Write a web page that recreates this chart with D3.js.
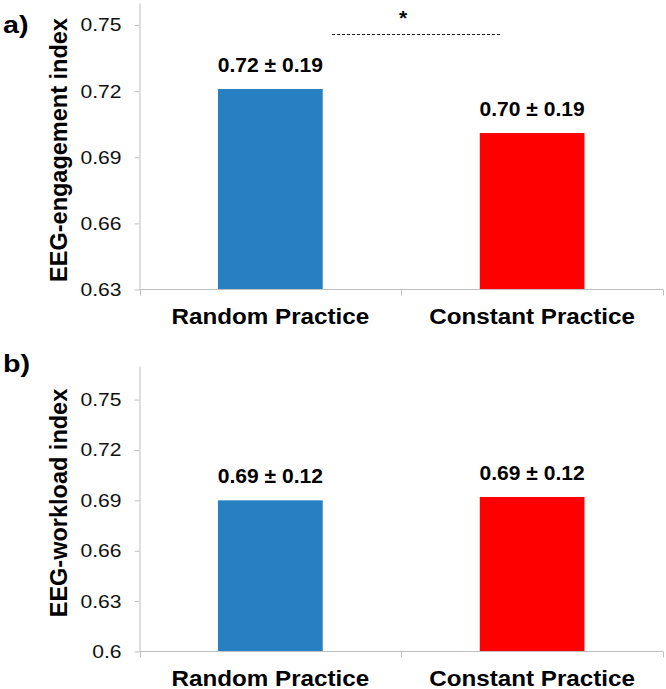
<!DOCTYPE html>
<html>
<head>
<meta charset="utf-8">
<script src="https://cdn.jsdelivr.net/npm/d3@7"></script>
<style>
  html, body { margin: 0; padding: 0; background: #fff; }
  svg { display: block; font-family: "Liberation Sans", Arial, sans-serif; }
</style>
</head>
<body>
<svg id="chart" width="666" height="689"></svg>
<script>
// ---------- data ----------
const categories = ["Random Practice", "Constant Practice"];

const engagementValues = [0.721, 0.701];
const engagementLabels = ["0.72 ± 0.19", "0.70 ± 0.19"];
const engagementTicks = [0.63, 0.66, 0.69, 0.72, 0.75];
const engagementTickLabels = ["0.63", "0.66", "0.69", "0.72", "0.75"];
const engagementDomain = [0.63, 0.76];

const workloadValues = [0.690, 0.692];
const workloadLabels = ["0.69 ± 0.12", "0.69 ± 0.12"];
const workloadTicks = [0.60, 0.63, 0.66, 0.69, 0.72, 0.75];
const workloadTickLabels = ["0.6", "0.63", "0.66", "0.69", "0.72", "0.75"];
const workloadDomain = [0.60, 0.77];

const significance = "*";

// ---------- style ----------
const barColors = ["#2680c2", "#ff0000"];
const axisColor = "#bfbfbf";
const svg = d3.select("#chart");

const x = d3.scaleBand()
  .domain(categories)
  .range([139.5, 663])
  .paddingInner(0.6)
  .paddingOuter(0.3);

function drawPanel(opts) {
  const g = svg.append("g");
  const y = d3.scaleLinear().domain(opts.domain).range([opts.bottom, opts.top]);

  // bars
  g.selectAll("rect.bar")
    .data(opts.values)
    .join("rect")
    .attr("class", "bar")
    .attr("x", (d, i) => x(categories[i]))
    .attr("width", x.bandwidth())
    .attr("y", d => y(d))
    .attr("height", d => y(opts.domain[0]) - y(d))
    .attr("fill", (d, i) => barColors[i]);

  // y axis
  const tickMap = new Map(opts.ticks.map((t, i) => [t, opts.tickLabels[i]]));
  const yAxis = d3.axisLeft(y)
    .tickValues(opts.ticks)
    .tickFormat(d => tickMap.get(d))
    .tickSize(5)
    .tickSizeOuter(0)
    .tickPadding(13);
  const ya = g.append("g")
    .attr("transform", `translate(${x.range()[0]},0)`)
    .call(yAxis);
  ya.select(".domain").attr("stroke", axisColor);
  ya.selectAll(".tick line").attr("stroke", axisColor);
  ya.selectAll(".tick text")
    .attr("x", null)
    .attr("transform", "translate(-18,0) scale(1.14,1)")
    .attr("font-size", 18.5)
    .attr("font-family", "Liberation Sans, Arial, sans-serif")
    .attr("fill", "#111");

  // x axis (Excel style: ticks at category boundaries)
  const base = y(opts.domain[0]);
  g.append("line")
    .attr("x1", x.range()[0]).attr("x2", x.range()[1])
    .attr("y1", base).attr("y2", base)
    .attr("stroke", axisColor);
  const bounds = [];
  categories.forEach((c, i) => {
    const cx = x(c) + x.bandwidth() / 2;
    if (i === 0) bounds.push(cx - x.step() / 2);
    bounds.push(cx + x.step() / 2);
  });
  g.selectAll("line.xtick")
    .data(bounds)
    .join("line")
    .attr("class", "xtick")
    .attr("x1", d => Math.round(d) + 0.5).attr("x2", d => Math.round(d) + 0.5)
    .attr("y1", base).attr("y2", base + 6)
    .attr("stroke", axisColor);

  // category labels
  g.selectAll("text.cat")
    .data(categories)
    .join("text")
    .attr("class", "cat")
    .attr("transform", d => `translate(${x(d) + x.bandwidth() / 2},${base + 34}) scale(1.1,1)`)
    .attr("text-anchor", "middle")
    .attr("font-size", 22)
    .attr("font-weight", "bold")
    .text(d => d);

  // value labels
  g.selectAll("text.val")
    .data(opts.values)
    .join("text")
    .attr("class", "val")
    .attr("transform", (d, i) => `translate(${x(categories[i]) + x.bandwidth() / 2},${y(d) - 17}) scale(1.08,1)`)
    .attr("text-anchor", "middle")
    .attr("font-size", 19.5)
    .attr("font-weight", "bold")
    .text((d, i) => opts.labels[i]);

  // y title
  g.append("text")
    .attr("transform", `translate(67,${opts.titleY}) rotate(-90)`)
    .attr("text-anchor", "middle")
    .attr("font-size", 23.5)
    .attr("font-weight", "bold")
    .text(opts.title);

  // panel letter
  g.append("text")
    .attr("transform", `translate(3,${opts.letterY}) scale(1.25,1)`)
    .attr("font-size", 23)
    .attr("font-weight", "bold")
    .text(opts.letter);

  return y;
}

const yA = drawPanel({
  values: engagementValues, labels: engagementLabels,
  ticks: engagementTicks, tickLabels: engagementTickLabels,
  domain: engagementDomain, top: 3, bottom: 289.5,
  title: "EEG-engagement index", titleY: 150, letter: "a)", letterY: 33
});

drawPanel({
  values: workloadValues, labels: workloadLabels,
  ticks: workloadTicks, tickLabels: workloadTickLabels,
  domain: workloadDomain, top: 366, bottom: 651.5,
  title: "EEG-workload index", titleY: 503, letter: "b)", letterY: 372
});

// significance bracket (panel a)
const sigY = yA(0.746);
svg.append("line")
  .attr("x1", 332).attr("x2", 500)
  .attr("y1", Math.round(sigY) + 0.5).attr("y2", Math.round(sigY) + 0.5)
  .attr("stroke", "#222")
  .attr("stroke-width", 1)
  .attr("stroke-dasharray", "3,2");
svg.append("text")
  .attr("x", 403).attr("y", Math.round(sigY) - 9)
  .attr("text-anchor", "middle")
  .attr("font-size", 21)
  .attr("font-weight", "bold")
  .text(significance);
</script>
</body>
</html>
